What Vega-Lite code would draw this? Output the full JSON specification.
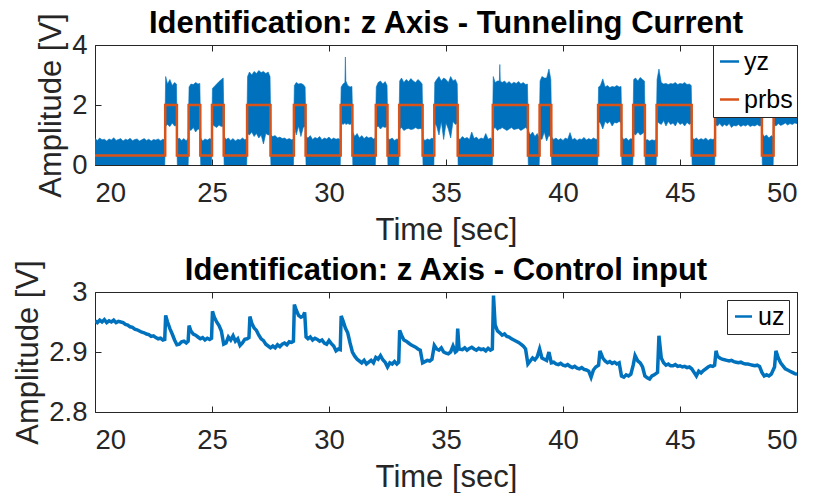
{
  "$schema": "https://vega.github.io/schema/vega-lite/v6.json",
  "background": "white",
  "padding": {"left": 12, "top": 7, "right": 5, "bottom": 0},
  "spacing": 8,
  "config": {
    "font": "Liberation Sans",
    "view": {"stroke": "#262626", "strokeWidth": 1},
    "axis": {"grid": false, "domain": false, "tickColor": "#262626", "tickSize": -6, "tickWidth": 1, "labelFontSize": 27.5, "labelColor": "#262626", "labelFont": "Liberation Sans", "titleFontSize": 31, "titleFontWeight": "normal", "titleColor": "#262626", "titleFont": "Liberation Sans", "minExtent": 0},
    "title": {"fontSize": 31, "fontWeight": "bold", "color": "#000000", "font": "Liberation Sans"},
    "legend": {"title": null, "symbolType": "stroke", "symbolStrokeWidth": 2.5, "labelFontSize": 25, "labelColor": "#000000", "labelFont": "Liberation Sans", "strokeColor": "#262626", "fillColor": "white", "padding": 4, "rowPadding": 12, "labelOffset": 2, "cornerRadius": 0}
  },
  "datasets": {
    "yz": [
      {"t":20,"lo":-0.05,"hi":0.88},{"t":20.1,"lo":-0.05,"hi":0.82},{"t":20.2,"lo":-0.05,"hi":0.9},{"t":20.3,"lo":-0.05,"hi":0.84},{"t":20.4,"lo":-0.05,"hi":0.86},{"t":20.5,"lo":-0.05,"hi":0.8},{"t":20.6,"lo":-0.05,"hi":0.87},{"t":20.7,"lo":-0.05,"hi":0.83},{"t":20.8,"lo":-0.05,"hi":0.91},{"t":20.9,"lo":-0.05,"hi":0.82},
      {"t":21,"lo":-0.05,"hi":0.85},{"t":21.1,"lo":-0.05,"hi":0.88},{"t":21.2,"lo":-0.05,"hi":0.8},{"t":21.3,"lo":-0.05,"hi":0.86},{"t":21.4,"lo":-0.05,"hi":0.83},{"t":21.5,"lo":-0.05,"hi":0.89},{"t":21.6,"lo":-0.05,"hi":0.81},{"t":21.7,"lo":-0.05,"hi":0.85},{"t":21.8,"lo":-0.05,"hi":0.87},{"t":21.9,"lo":-0.05,"hi":0.8},
      {"t":22,"lo":-0.05,"hi":0.84},{"t":22.1,"lo":-0.05,"hi":0.88},{"t":22.2,"lo":-0.05,"hi":0.82},{"t":22.3,"lo":-0.05,"hi":0.86},{"t":22.4,"lo":-0.05,"hi":0.8},{"t":22.5,"lo":-0.05,"hi":0.85},{"t":22.6,"lo":-0.05,"hi":0.83},{"t":22.7,"lo":-0.05,"hi":0.87},{"t":22.8,"lo":-0.05,"hi":0.81},{"t":22.9,"lo":-0.05,"hi":0.86},{"t":22.98,"lo":-0.05,"hi":0.84},
      {"t":23.02,"lo":1.3,"hi":2.95},{"t":23.1,"lo":1.35,"hi":2.7},{"t":23.2,"lo":1.28,"hi":2.85},{"t":23.3,"lo":1.4,"hi":2.65},{"t":23.4,"lo":1.3,"hi":2.75},{"t":23.48,"lo":1.32,"hi":2.7},
      {"t":23.52,"lo":-0.05,"hi":0.85},{"t":23.6,"lo":-0.05,"hi":0.9},{"t":23.7,"lo":-0.05,"hi":0.82},{"t":23.8,"lo":-0.05,"hi":0.88},{"t":23.9,"lo":-0.05,"hi":0.8},{"t":23.98,"lo":-0.05,"hi":0.9},
      {"t":24.02,"lo":1.2,"hi":2.6},{"t":24.1,"lo":1.15,"hi":2.7},{"t":24.2,"lo":1.25,"hi":2.68},{"t":24.3,"lo":1.1,"hi":2.75},{"t":24.4,"lo":1.2,"hi":2.7},{"t":24.48,"lo":1.18,"hi":2.72},
      {"t":24.52,"lo":-0.05,"hi":0.9},{"t":24.6,"lo":-0.05,"hi":0.8},{"t":24.7,"lo":-0.05,"hi":0.87},{"t":24.8,"lo":-0.05,"hi":0.83},{"t":24.9,"lo":-0.05,"hi":0.88},{"t":24.98,"lo":-0.05,"hi":0.85},
      {"t":25.02,"lo":1.35,"hi":2.55},{"t":25.1,"lo":1.3,"hi":2.62},{"t":25.2,"lo":1.25,"hi":2.7},{"t":25.3,"lo":1.33,"hi":2.78},{"t":25.4,"lo":1.28,"hi":2.85},{"t":25.48,"lo":1.3,"hi":2.9},
      {"t":25.52,"lo":-0.05,"hi":0.95},{"t":25.6,"lo":-0.05,"hi":0.85},{"t":25.7,"lo":-0.05,"hi":0.9},{"t":25.8,"lo":-0.05,"hi":0.82},{"t":25.9,"lo":-0.05,"hi":0.88},{"t":26,"lo":-0.05,"hi":0.8},{"t":26.1,"lo":-0.05,"hi":0.86},{"t":26.2,"lo":-0.05,"hi":0.83},{"t":26.3,"lo":-0.05,"hi":0.9},{"t":26.4,"lo":-0.05,"hi":0.84},{"t":26.48,"lo":-0.05,"hi":0.87},
      {"t":26.52,"lo":1.05,"hi":2.95},{"t":26.6,"lo":1.0,"hi":3.1},{"t":26.7,"lo":1.1,"hi":3.0},{"t":26.8,"lo":0.95,"hi":3.12},{"t":26.9,"lo":1.05,"hi":3.05},{"t":27,"lo":0.9,"hi":3.15},{"t":27.1,"lo":1.0,"hi":3.08},{"t":27.2,"lo":0.7,"hi":3.12},{"t":27.3,"lo":1.05,"hi":3.05},{"t":27.4,"lo":1.0,"hi":3.1},{"t":27.48,"lo":1.02,"hi":2.95},
      {"t":27.52,"lo":-0.05,"hi":1.0},{"t":27.6,"lo":-0.05,"hi":0.95},{"t":27.7,"lo":-0.05,"hi":0.98},{"t":27.8,"lo":-0.05,"hi":0.9},{"t":27.9,"lo":-0.05,"hi":0.93},{"t":28,"lo":-0.05,"hi":0.88},{"t":28.1,"lo":-0.05,"hi":0.9},{"t":28.2,"lo":-0.05,"hi":0.85},{"t":28.3,"lo":-0.05,"hi":0.88},{"t":28.4,"lo":-0.05,"hi":0.84},{"t":28.48,"lo":-0.05,"hi":0.86},
      {"t":28.52,"lo":1.3,"hi":2.65},{"t":28.6,"lo":1.0,"hi":2.75},{"t":28.7,"lo":1.3,"hi":2.7},{"t":28.8,"lo":0.95,"hi":2.72},{"t":28.9,"lo":1.25,"hi":2.68},{"t":28.98,"lo":1.3,"hi":2.6},
      {"t":29.02,"lo":-0.05,"hi":0.95},{"t":29.1,"lo":-0.05,"hi":0.9},{"t":29.2,"lo":-0.05,"hi":0.98},{"t":29.3,"lo":-0.05,"hi":0.85},{"t":29.4,"lo":-0.05,"hi":0.92},{"t":29.5,"lo":-0.05,"hi":0.88},{"t":29.6,"lo":-0.05,"hi":0.95},{"t":29.7,"lo":-0.05,"hi":0.84},{"t":29.8,"lo":-0.05,"hi":0.9},{"t":29.9,"lo":-0.05,"hi":0.87},{"t":30,"lo":-0.05,"hi":0.93},{"t":30.1,"lo":-0.05,"hi":0.85},{"t":30.2,"lo":-0.05,"hi":0.9},{"t":30.3,"lo":-0.05,"hi":0.86},{"t":30.4,"lo":-0.05,"hi":0.88},{"t":30.48,"lo":-0.05,"hi":0.84},
      {"t":30.52,"lo":1.4,"hi":2.6},{"t":30.6,"lo":1.35,"hi":2.7},{"t":30.68,"lo":1.4,"hi":2.75},{"t":30.7,"lo":1.4,"hi":3.6},{"t":30.72,"lo":1.35,"hi":2.8},{"t":30.8,"lo":1.38,"hi":2.65},{"t":30.9,"lo":1.35,"hi":2.6},{"t":30.98,"lo":1.4,"hi":2.62},
      {"t":31.02,"lo":-0.05,"hi":1.1},{"t":31.1,"lo":-0.05,"hi":0.95},{"t":31.2,"lo":-0.05,"hi":1.05},{"t":31.3,"lo":-0.05,"hi":0.9},{"t":31.4,"lo":-0.05,"hi":0.98},{"t":31.5,"lo":-0.05,"hi":0.88},{"t":31.6,"lo":-0.05,"hi":0.95},{"t":31.7,"lo":-0.05,"hi":0.9},{"t":31.8,"lo":-0.05,"hi":0.93},{"t":31.9,"lo":-0.05,"hi":0.87},{"t":31.98,"lo":-0.05,"hi":0.9},
      {"t":32.02,"lo":1.25,"hi":2.6},{"t":32.1,"lo":1.3,"hi":2.75},{"t":32.2,"lo":1.2,"hi":2.8},{"t":32.3,"lo":1.28,"hi":2.7},{"t":32.4,"lo":1.25,"hi":2.78},{"t":32.48,"lo":1.3,"hi":2.65},
      {"t":32.52,"lo":-0.05,"hi":0.88},{"t":32.6,"lo":-0.05,"hi":0.85},{"t":32.7,"lo":-0.05,"hi":0.9},{"t":32.8,"lo":-0.05,"hi":0.82},{"t":32.9,"lo":-0.05,"hi":0.87},{"t":32.98,"lo":-0.05,"hi":0.85},
      {"t":33.02,"lo":1.2,"hi":2.8},{"t":33.1,"lo":1.25,"hi":2.9},{"t":33.2,"lo":1.15,"hi":2.75},{"t":33.3,"lo":1.2,"hi":2.85},{"t":33.4,"lo":1.22,"hi":2.78},{"t":33.5,"lo":1.18,"hi":2.88},{"t":33.6,"lo":1.2,"hi":2.8},{"t":33.7,"lo":1.25,"hi":2.75},{"t":33.8,"lo":1.2,"hi":2.85},{"t":33.9,"lo":1.22,"hi":2.78},{"t":33.98,"lo":1.2,"hi":2.7},
      {"t":34.02,"lo":-0.05,"hi":0.88},{"t":34.1,"lo":-0.05,"hi":0.82},{"t":34.2,"lo":-0.05,"hi":0.87},{"t":34.3,"lo":-0.05,"hi":0.84},{"t":34.4,"lo":-0.05,"hi":0.9},{"t":34.48,"lo":-0.05,"hi":0.85},
      {"t":34.52,"lo":1.4,"hi":2.75},{"t":34.6,"lo":1.3,"hi":2.85},{"t":34.7,"lo":1.0,"hi":2.95},{"t":34.8,"lo":1.45,"hi":2.8},{"t":34.9,"lo":0.85,"hi":2.9},{"t":35,"lo":1.4,"hi":2.85},{"t":35.1,"lo":1.2,"hi":2.75},{"t":35.2,"lo":0.9,"hi":2.95},{"t":35.3,"lo":1.45,"hi":2.8},{"t":35.4,"lo":1.35,"hi":2.85},{"t":35.48,"lo":1.4,"hi":2.7},
      {"t":35.52,"lo":-0.05,"hi":0.9},{"t":35.6,"lo":-0.05,"hi":0.85},{"t":35.7,"lo":-0.05,"hi":0.95},{"t":35.8,"lo":-0.05,"hi":0.88},{"t":35.9,"lo":-0.05,"hi":0.92},{"t":36,"lo":-0.05,"hi":0.85},{"t":36.1,"lo":-0.05,"hi":1.1},{"t":36.2,"lo":-0.05,"hi":0.88},{"t":36.3,"lo":-0.05,"hi":0.93},{"t":36.4,"lo":-0.05,"hi":0.85},{"t":36.5,"lo":-0.05,"hi":0.9},{"t":36.6,"lo":-0.05,"hi":0.87},{"t":36.7,"lo":-0.05,"hi":1.05},{"t":36.8,"lo":-0.05,"hi":0.86},{"t":36.9,"lo":-0.05,"hi":0.9},{"t":36.98,"lo":-0.05,"hi":0.85},
      {"t":37.02,"lo":1.2,"hi":2.95},{"t":37.1,"lo":1.25,"hi":2.75},{"t":37.2,"lo":1.15,"hi":2.8},{"t":37.28,"lo":1.2,"hi":2.8},{"t":37.3,"lo":1.2,"hi":3.35},{"t":37.32,"lo":1.2,"hi":2.8},{"t":37.4,"lo":1.25,"hi":2.75},{"t":37.5,"lo":1.2,"hi":2.8},{"t":37.6,"lo":1.15,"hi":2.72},{"t":37.7,"lo":1.2,"hi":2.78},{"t":37.8,"lo":1.25,"hi":2.7},{"t":37.9,"lo":1.18,"hi":2.76},{"t":38,"lo":1.2,"hi":2.72},{"t":38.1,"lo":1.22,"hi":2.78},{"t":38.2,"lo":1.15,"hi":2.7},{"t":38.3,"lo":1.2,"hi":2.75},{"t":38.4,"lo":1.25,"hi":2.68},{"t":38.48,"lo":1.2,"hi":2.7},
      {"t":38.52,"lo":-0.05,"hi":1.15},{"t":38.6,"lo":-0.05,"hi":1.0},{"t":38.7,"lo":-0.05,"hi":1.1},{"t":38.8,"lo":-0.05,"hi":0.95},{"t":38.9,"lo":-0.05,"hi":1.05},{"t":38.98,"lo":-0.05,"hi":0.9},
      {"t":39.02,"lo":0.9,"hi":2.8},{"t":39.1,"lo":0.85,"hi":2.95},{"t":39.2,"lo":1.1,"hi":2.9},{"t":39.3,"lo":0.8,"hi":2.9},{"t":39.4,"lo":1.0,"hi":3.2},{"t":39.48,"lo":0.9,"hi":2.85},
      {"t":39.52,"lo":-0.05,"hi":0.93},{"t":39.6,"lo":-0.05,"hi":0.85},{"t":39.7,"lo":-0.05,"hi":0.9},{"t":39.8,"lo":-0.05,"hi":0.83},{"t":39.9,"lo":-0.05,"hi":0.88},{"t":40,"lo":-0.05,"hi":0.82},{"t":40.1,"lo":-0.05,"hi":0.9},{"t":40.2,"lo":-0.05,"hi":0.86},{"t":40.3,"lo":-0.05,"hi":1.08},{"t":40.4,"lo":-0.05,"hi":0.84},{"t":40.5,"lo":-0.05,"hi":0.89},{"t":40.6,"lo":-0.05,"hi":0.82},{"t":40.7,"lo":-0.05,"hi":0.87},{"t":40.8,"lo":-0.05,"hi":0.85},{"t":40.9,"lo":-0.05,"hi":0.92},{"t":41,"lo":-0.05,"hi":0.83},{"t":41.1,"lo":-0.05,"hi":0.88},{"t":41.2,"lo":-0.05,"hi":0.84},{"t":41.3,"lo":-0.05,"hi":0.9},{"t":41.4,"lo":-0.05,"hi":0.86},{"t":41.48,"lo":-0.05,"hi":0.85},
      {"t":41.52,"lo":1.45,"hi":2.6},{"t":41.6,"lo":1.4,"hi":2.65},{"t":41.7,"lo":1.2,"hi":2.87},{"t":41.8,"lo":1.45,"hi":2.6},{"t":41.9,"lo":1.38,"hi":2.65},{"t":42,"lo":1.45,"hi":2.58},{"t":42.1,"lo":1.3,"hi":2.62},{"t":42.2,"lo":1.42,"hi":2.6},{"t":42.3,"lo":1.4,"hi":2.65},{"t":42.4,"lo":1.45,"hi":2.6},{"t":42.48,"lo":1.4,"hi":2.62},
      {"t":42.52,"lo":-0.05,"hi":0.93},{"t":42.6,"lo":-0.05,"hi":0.85},{"t":42.7,"lo":-0.05,"hi":0.9},{"t":42.8,"lo":-0.05,"hi":0.82},{"t":42.9,"lo":-0.05,"hi":0.88},{"t":42.98,"lo":-0.05,"hi":0.85},
      {"t":43.02,"lo":1.05,"hi":2.85},{"t":43.1,"lo":1.0,"hi":2.9},{"t":43.2,"lo":1.1,"hi":2.8},{"t":43.3,"lo":1.0,"hi":2.92},{"t":43.4,"lo":1.05,"hi":2.85},{"t":43.48,"lo":1.1,"hi":2.8},
      {"t":43.52,"lo":-0.05,"hi":0.82},{"t":43.6,"lo":-0.05,"hi":0.85},{"t":43.7,"lo":-0.05,"hi":0.8},{"t":43.8,"lo":-0.05,"hi":0.84},{"t":43.9,"lo":-0.05,"hi":0.82},{"t":43.98,"lo":-0.05,"hi":0.85},
      {"t":44.02,"lo":1.45,"hi":2.85},{"t":44.1,"lo":1.4,"hi":3.2},{"t":44.2,"lo":1.35,"hi":2.75},{"t":44.3,"lo":1.48,"hi":2.7},{"t":44.4,"lo":1.3,"hi":2.72},{"t":44.5,"lo":1.45,"hi":2.68},{"t":44.6,"lo":1.35,"hi":2.72},{"t":44.7,"lo":1.4,"hi":2.7},{"t":44.8,"lo":1.3,"hi":2.75},{"t":44.9,"lo":1.45,"hi":2.68},{"t":45,"lo":1.35,"hi":2.72},{"t":45.1,"lo":1.4,"hi":2.7},{"t":45.2,"lo":1.3,"hi":2.75},{"t":45.3,"lo":1.42,"hi":2.68},{"t":45.4,"lo":1.35,"hi":2.7},{"t":45.48,"lo":1.4,"hi":2.65},
      {"t":45.52,"lo":-0.05,"hi":0.92},{"t":45.6,"lo":-0.05,"hi":0.85},{"t":45.7,"lo":-0.05,"hi":0.9},{"t":45.8,"lo":-0.05,"hi":0.83},{"t":45.9,"lo":-0.05,"hi":0.88},{"t":46,"lo":-0.05,"hi":0.84},{"t":46.1,"lo":-0.05,"hi":0.9},{"t":46.2,"lo":-0.05,"hi":0.82},{"t":46.3,"lo":-0.05,"hi":0.87},{"t":46.4,"lo":-0.05,"hi":0.85},{"t":46.48,"lo":-0.05,"hi":0.88},
      {"t":46.52,"lo":1.35,"hi":2.7},{"t":46.6,"lo":1.3,"hi":2.75},{"t":46.7,"lo":1.38,"hi":2.68},{"t":46.8,"lo":1.28,"hi":2.72},{"t":46.9,"lo":1.35,"hi":2.65},{"t":47,"lo":1.3,"hi":2.7},{"t":47.1,"lo":1.38,"hi":2.62},{"t":47.2,"lo":1.25,"hi":2.68},{"t":47.3,"lo":1.32,"hi":2.6},{"t":47.4,"lo":1.3,"hi":2.65},{"t":47.5,"lo":1.35,"hi":2.58},{"t":47.6,"lo":1.28,"hi":2.62},{"t":47.7,"lo":1.33,"hi":2.6},{"t":47.8,"lo":1.3,"hi":2.55},{"t":47.9,"lo":1.35,"hi":2.6},{"t":48,"lo":1.28,"hi":2.58},{"t":48.1,"lo":1.32,"hi":2.55},{"t":48.2,"lo":1.3,"hi":2.6},{"t":48.3,"lo":1.35,"hi":2.55},{"t":48.4,"lo":1.3,"hi":2.58},{"t":48.48,"lo":1.32,"hi":2.55},
      {"t":48.52,"lo":-0.05,"hi":1.05},{"t":48.6,"lo":-0.05,"hi":0.95},{"t":48.7,"lo":-0.05,"hi":1.0},{"t":48.8,"lo":-0.05,"hi":0.9},{"t":48.9,"lo":-0.05,"hi":0.98},{"t":48.98,"lo":-0.05,"hi":0.92},
      {"t":49.02,"lo":1.35,"hi":2.6},{"t":49.1,"lo":1.3,"hi":2.55},{"t":49.2,"lo":1.38,"hi":2.6},{"t":49.3,"lo":1.32,"hi":2.52},{"t":49.4,"lo":1.35,"hi":2.58},{"t":49.5,"lo":1.4,"hi":2.55},{"t":49.6,"lo":1.33,"hi":2.6},{"t":49.7,"lo":1.38,"hi":2.52},{"t":49.8,"lo":1.35,"hi":2.55},{"t":49.9,"lo":1.4,"hi":2.58},{"t":50,"lo":1.38,"hi":2.55}
    ],
    "prbs": [
      {"t":20,"v":0.32},{"t":23,"v":2},{"t":23.5,"v":0.32},{"t":24,"v":2},{"t":24.5,"v":0.32},{"t":25,"v":2},{"t":25.5,"v":0.32},{"t":26.5,"v":2},{"t":27.5,"v":0.32},{"t":28.5,"v":2},{"t":29,"v":0.32},{"t":30.5,"v":2},{"t":31,"v":0.32},{"t":32,"v":2},{"t":32.5,"v":0.32},{"t":33,"v":2},{"t":34,"v":0.32},{"t":34.5,"v":2},{"t":35.5,"v":0.32},{"t":37,"v":2},{"t":38.5,"v":0.32},{"t":39,"v":2},{"t":39.5,"v":0.32},{"t":41.5,"v":2},{"t":42.5,"v":0.32},{"t":43,"v":2},{"t":43.5,"v":0.32},{"t":44,"v":2},{"t":45.5,"v":0.32},{"t":46.5,"v":2},{"t":48.5,"v":0.32},{"t":49,"v":2},{"t":50,"v":2}
    ],
    "uz": [
      {"t":20,"u":2.952},{"t":20.1,"u":2.949},{"t":20.2,"u":2.953},{"t":20.3,"u":2.95},{"t":20.4,"u":2.954},{"t":20.5,"u":2.949},{"t":20.6,"u":2.952},{"t":20.7,"u":2.95},{"t":20.8,"u":2.953},{"t":20.9,"u":2.949},
      {"t":21,"u":2.951},{"t":21.1,"u":2.95},{"t":21.2,"u":2.949},{"t":21.3,"u":2.946},{"t":21.4,"u":2.945},{"t":21.5,"u":2.942},{"t":21.6,"u":2.941},{"t":21.7,"u":2.938},{"t":21.8,"u":2.937},{"t":21.9,"u":2.935},
      {"t":22,"u":2.933},{"t":22.1,"u":2.932},{"t":22.2,"u":2.93},{"t":22.3,"u":2.929},{"t":22.4,"u":2.926},{"t":22.5,"u":2.927},{"t":22.6,"u":2.924},{"t":22.7,"u":2.922},{"t":22.8,"u":2.923},{"t":22.9,"u":2.92},{"t":22.98,"u":2.921},
      {"t":23.02,"u":2.961},{"t":23.1,"u":2.95},{"t":23.2,"u":2.939},{"t":23.3,"u":2.93},{"t":23.4,"u":2.92},{"t":23.5,"u":2.912},{"t":23.6,"u":2.913},{"t":23.7,"u":2.917},{"t":23.8,"u":2.918},{"t":23.9,"u":2.915},{"t":23.98,"u":2.918},
      {"t":24.02,"u":2.944},{"t":24.1,"u":2.935},{"t":24.2,"u":2.93},{"t":24.3,"u":2.928},{"t":24.4,"u":2.925},{"t":24.5,"u":2.922},{"t":24.6,"u":2.924},{"t":24.7,"u":2.92},{"t":24.8,"u":2.923},{"t":24.9,"u":2.921},{"t":24.98,"u":2.923},
      {"t":25.02,"u":2.968},{"t":25.1,"u":2.958},{"t":25.2,"u":2.95},{"t":25.3,"u":2.944},{"t":25.4,"u":2.935},{"t":25.5,"u":2.913},{"t":25.6,"u":2.915},{"t":25.7,"u":2.925},{"t":25.8,"u":2.92},{"t":25.9,"u":2.927},{"t":26,"u":2.918},{"t":26.1,"u":2.922},{"t":26.2,"u":2.911},{"t":26.3,"u":2.915},{"t":26.4,"u":2.921},{"t":26.5,"u":2.922},{"t":26.58,"u":2.924},
      {"t":26.62,"u":2.959},{"t":26.7,"u":2.948},{"t":26.8,"u":2.94},{"t":26.9,"u":2.936},{"t":27,"u":2.928},{"t":27.1,"u":2.922},{"t":27.2,"u":2.919},{"t":27.3,"u":2.913},{"t":27.4,"u":2.91},{"t":27.5,"u":2.907},{"t":27.6,"u":2.91},{"t":27.7,"u":2.907},{"t":27.8,"u":2.912},{"t":27.9,"u":2.909},{"t":28,"u":2.913},{"t":28.1,"u":2.915},{"t":28.2,"u":2.912},{"t":28.3,"u":2.917},{"t":28.4,"u":2.916},{"t":28.48,"u":2.918},
      {"t":28.52,"u":2.979},{"t":28.6,"u":2.97},{"t":28.7,"u":2.961},{"t":28.8,"u":2.958},{"t":28.9,"u":2.96},{"t":28.96,"u":2.966},{"t":29.02,"u":2.925},{"t":29.1,"u":2.922},{"t":29.2,"u":2.925},{"t":29.3,"u":2.92},{"t":29.4,"u":2.923},{"t":29.5,"u":2.921},{"t":29.6,"u":2.918},{"t":29.7,"u":2.92},{"t":29.8,"u":2.915},{"t":29.9,"u":2.913},{"t":30,"u":2.919},{"t":30.1,"u":2.914},{"t":30.2,"u":2.91},{"t":30.3,"u":2.902},{"t":30.4,"u":2.905},{"t":30.48,"u":2.904},
      {"t":30.52,"u":2.96},{"t":30.6,"u":2.952},{"t":30.7,"u":2.94},{"t":30.8,"u":2.932},{"t":30.9,"u":2.915},{"t":31,"u":2.9},{"t":31.1,"u":2.893},{"t":31.2,"u":2.888},{"t":31.3,"u":2.885},{"t":31.4,"u":2.882},{"t":31.5,"u":2.886},{"t":31.6,"u":2.88},{"t":31.7,"u":2.883},{"t":31.8,"u":2.886},{"t":31.9,"u":2.882},
      {"t":32,"u":2.891},{"t":32.1,"u":2.888},{"t":32.2,"u":2.894},{"t":32.3,"u":2.887},{"t":32.4,"u":2.883},{"t":32.5,"u":2.875},{"t":32.6,"u":2.882},{"t":32.7,"u":2.88},{"t":32.8,"u":2.884},{"t":32.9,"u":2.88},{"t":32.98,"u":2.883},
      {"t":33.02,"u":2.936},{"t":33.1,"u":2.928},{"t":33.2,"u":2.92},{"t":33.3,"u":2.918},{"t":33.4,"u":2.915},{"t":33.5,"u":2.912},{"t":33.6,"u":2.91},{"t":33.7,"u":2.908},{"t":33.8,"u":2.905},{"t":33.9,"u":2.903},{"t":34,"u":2.882},{"t":34.1,"u":2.884},{"t":34.2,"u":2.886},{"t":34.3,"u":2.885},{"t":34.4,"u":2.888},
      {"t":34.5,"u":2.911},{"t":34.6,"u":2.905},{"t":34.7,"u":2.903},{"t":34.8,"u":2.907},{"t":34.9,"u":2.9},{"t":35,"u":2.898},{"t":35.1,"u":2.897},{"t":35.2,"u":2.9},{"t":35.3,"u":2.91},{"t":35.4,"u":2.9},{"t":35.46,"u":2.902},{"t":35.5,"u":2.939},{"t":35.56,"u":2.905},{"t":35.7,"u":2.904},{"t":35.8,"u":2.907},{"t":35.9,"u":2.903},
      {"t":36,"u":2.906},{"t":36.1,"u":2.908},{"t":36.2,"u":2.905},{"t":36.3,"u":2.903},{"t":36.4,"u":2.906},{"t":36.5,"u":2.904},{"t":36.6,"u":2.905},{"t":36.7,"u":2.902},{"t":36.8,"u":2.906},{"t":36.9,"u":2.903},{"t":36.98,"u":2.905},
      {"t":37.03,"u":2.994},{"t":37.1,"u":2.945},{"t":37.2,"u":2.935},{"t":37.3,"u":2.932},{"t":37.4,"u":2.928},{"t":37.5,"u":2.93},{"t":37.6,"u":2.926},{"t":37.7,"u":2.925},{"t":37.8,"u":2.922},{"t":37.9,"u":2.92},{"t":38,"u":2.918},{"t":38.1,"u":2.916},{"t":38.2,"u":2.913},{"t":38.3,"u":2.91},{"t":38.4,"u":2.905},
      {"t":38.5,"u":2.88},{"t":38.6,"u":2.885},{"t":38.7,"u":2.89},{"t":38.8,"u":2.887},{"t":38.9,"u":2.892},{"t":39,"u":2.905},{"t":39.1,"u":2.89},{"t":39.2,"u":2.888},{"t":39.3,"u":2.886},{"t":39.4,"u":2.9},{"t":39.5,"u":2.882},{"t":39.6,"u":2.883},{"t":39.7,"u":2.88},{"t":39.8,"u":2.879},{"t":39.9,"u":2.881},
      {"t":40,"u":2.878},{"t":40.1,"u":2.877},{"t":40.2,"u":2.879},{"t":40.3,"u":2.876},{"t":40.4,"u":2.874},{"t":40.5,"u":2.876},{"t":40.6,"u":2.873},{"t":40.7,"u":2.872},{"t":40.8,"u":2.874},{"t":40.9,"u":2.871},{"t":41,"u":2.87},{"t":41.1,"u":2.868},{"t":41.2,"u":2.858},{"t":41.3,"u":2.87},{"t":41.4,"u":2.875},{"t":41.52,"u":2.878},
      {"t":41.58,"u":2.902},{"t":41.7,"u":2.89},{"t":41.8,"u":2.885},{"t":41.9,"u":2.882},{"t":42,"u":2.884},{"t":42.1,"u":2.881},{"t":42.2,"u":2.883},{"t":42.3,"u":2.88},{"t":42.4,"u":2.882},{"t":42.5,"u":2.86},{"t":42.6,"u":2.858},{"t":42.7,"u":2.862},{"t":42.8,"u":2.86},{"t":42.9,"u":2.863},{"t":43,"u":2.878},
      {"t":43.08,"u":2.894},{"t":43.2,"u":2.885},{"t":43.3,"u":2.882},{"t":43.4,"u":2.875},{"t":43.5,"u":2.86},{"t":43.6,"u":2.857},{"t":43.7,"u":2.855},{"t":43.8,"u":2.86},{"t":43.9,"u":2.862},{"t":44.04,"u":2.866},
      {"t":44.1,"u":2.927},{"t":44.2,"u":2.89},{"t":44.3,"u":2.882},{"t":44.4,"u":2.878},{"t":44.5,"u":2.88},{"t":44.6,"u":2.877},{"t":44.7,"u":2.877},{"t":44.8,"u":2.879},{"t":44.9,"u":2.876},{"t":45,"u":2.877},{"t":45.1,"u":2.875},{"t":45.2,"u":2.876},{"t":45.3,"u":2.874},{"t":45.4,"u":2.875},{"t":45.5,"u":2.872},
      {"t":45.6,"u":2.866},{"t":45.7,"u":2.86},{"t":45.8,"u":2.868},{"t":45.9,"u":2.865},{"t":46,"u":2.869},{"t":46.1,"u":2.872},{"t":46.2,"u":2.875},{"t":46.3,"u":2.877},{"t":46.4,"u":2.876},{"t":46.48,"u":2.878},
      {"t":46.54,"u":2.902},{"t":46.6,"u":2.893},{"t":46.7,"u":2.89},{"t":46.8,"u":2.888},{"t":46.9,"u":2.887},{"t":47,"u":2.886},{"t":47.1,"u":2.885},{"t":47.2,"u":2.886},{"t":47.3,"u":2.884},{"t":47.4,"u":2.883},{"t":47.5,"u":2.882},{"t":47.6,"u":2.883},{"t":47.7,"u":2.881},{"t":47.8,"u":2.88},{"t":47.9,"u":2.88},
      {"t":48,"u":2.879},{"t":48.1,"u":2.878},{"t":48.2,"u":2.877},{"t":48.3,"u":2.878},{"t":48.4,"u":2.876},{"t":48.5,"u":2.866},{"t":48.6,"u":2.86},{"t":48.7,"u":2.862},{"t":48.8,"u":2.86},{"t":48.9,"u":2.863},{"t":49.04,"u":2.875},
      {"t":49.1,"u":2.902},{"t":49.2,"u":2.89},{"t":49.3,"u":2.882},{"t":49.4,"u":2.877},{"t":49.5,"u":2.872},{"t":49.6,"u":2.87},{"t":49.7,"u":2.868},{"t":49.8,"u":2.866},{"t":49.9,"u":2.864},{"t":50,"u":2.863}
    ]
  },
  "resolve": {"scale": {"stroke": "independent"}, "legend": {"stroke": "independent"}},
  "vconcat": [
    {
      "width": 702,
      "height": 120,
      "title": {"text": "Identification: z Axis - Tunneling Current", "offset": -27},
      "layer": [
        {
          "data": {"name": "yz"},
          "mark": {"type": "area", "fill": "#0072BD", "fillOpacity": 1, "strokeWidth": 0.6, "clip": true},
          "encoding": {
            "x": {"field": "t", "type": "quantitative", "scale": {"domain": [20, 50], "nice": false}, "axis": {"title": "Time [sec]", "values": [20, 25, 30, 35, 40, 45, 50], "labelPadding": 20, "titlePadding": 9}},
            "y": {"field": "lo", "type": "quantitative", "scale": {"domain": [0, 4], "nice": false}, "axis": {"title": "Amplitude [V]", "values": [0, 2, 4], "labelPadding": 14, "titlePadding": 4}},
            "y2": {"field": "hi"},
            "stroke": {"datum": "yz", "type": "nominal", "scale": {"domain": ["yz", "prbs"], "range": ["#0072BD", "#D95319"]}, "legend": {"orient": "top-right", "offset": 0, "symbolSize": 361}}
          }
        },
        {
          "data": {"name": "prbs"},
          "mark": {"type": "line", "interpolate": "step-after", "strokeWidth": 2.5, "clip": true},
          "encoding": {
            "x": {"field": "t", "type": "quantitative", "axis": {"orient": "top", "labels": false, "title": null, "values": [20, 25, 30, 35, 40, 45, 50], "labelPadding": 0, "minExtent": 0, "maxExtent": 0}},
            "y": {"field": "v", "type": "quantitative", "axis": {"orient": "right", "labels": false, "title": null, "values": [0, 2, 4], "labelPadding": 0, "minExtent": 0, "maxExtent": 0}},
            "stroke": {"datum": "prbs", "type": "nominal"}
          }
        }
      ],
      "resolve": {"axis": {"x": "independent", "y": "independent"}}
    },
    {
      "width": 702,
      "height": 120,
      "title": {"text": "Identification: z Axis - Control input", "offset": -27},
      "layer": [
        {
          "data": {"name": "uz"},
          "mark": {"type": "line", "strokeWidth": 3.5, "clip": true},
          "encoding": {
            "x": {"field": "t", "type": "quantitative", "scale": {"domain": [20, 50], "nice": false}, "axis": {"title": "Time [sec]", "values": [20, 25, 30, 35, 40, 45, 50], "labelPadding": 20, "titlePadding": 9}},
            "y": {"field": "u", "type": "quantitative", "scale": {"domain": [2.8, 3], "nice": false, "zero": false}, "axis": {"title": "Amplitude [V]", "values": [2.8, 2.9, 3], "format": "~g", "labelPadding": 14, "titlePadding": 4}},
            "stroke": {"datum": "uz", "type": "nominal", "scale": {"domain": ["uz"], "range": ["#0072BD"]}, "legend": {"orient": "top-right", "offset": 8, "symbolSize": 289}}
          }
        },
        {
          "data": {"values": []},
          "mark": {"type": "point", "opacity": 0},
          "encoding": {
            "x": {"field": "t", "type": "quantitative", "axis": {"orient": "top", "labels": false, "title": null, "values": [20, 25, 30, 35, 40, 45, 50], "labelPadding": 0, "minExtent": 0, "maxExtent": 0}},
            "y": {"field": "u", "type": "quantitative", "axis": {"orient": "right", "labels": false, "title": null, "values": [2.8, 2.9, 3], "labelPadding": 0, "minExtent": 0, "maxExtent": 0}}
          }
        }
      ],
      "resolve": {"axis": {"x": "independent", "y": "independent"}}
    }
  ]
}
